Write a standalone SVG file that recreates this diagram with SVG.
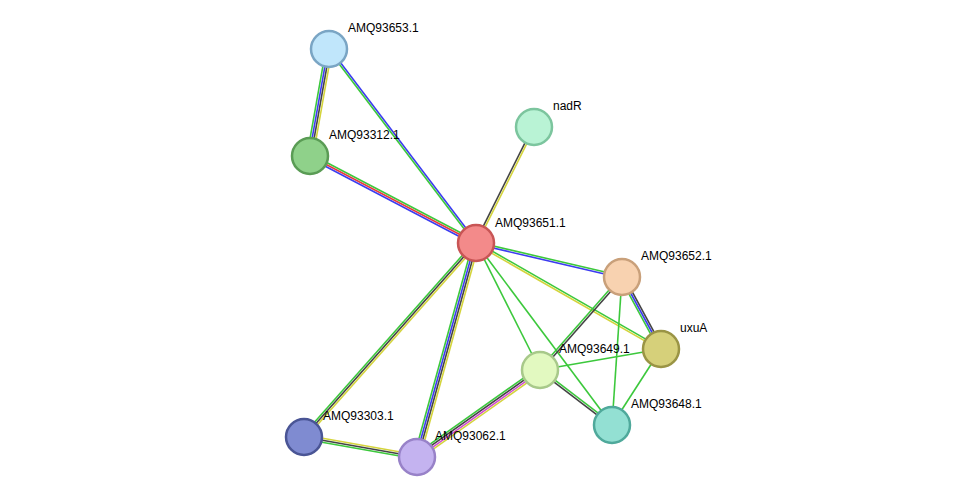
<svg xmlns="http://www.w3.org/2000/svg" width="976" height="503" viewBox="0 0 976 503">
<style>
line{stroke-width:1.6}
.g{stroke:#3cc83c}.b{stroke:#3c3cf0}.k{stroke:#444}.y{stroke:#d4d43c}.r{stroke:#e83c3c}.m{stroke:#d04cd0}
circle{stroke-width:2.5}
text{font-family:"Liberation Sans",Arial,sans-serif;font-size:12px;fill:#000}
</style>
<rect width="976" height="503" fill="#fff"/>
<g id="edges">
<line class="g" x1="326.05" y1="48.48" x2="307.05" y2="155.48"/>
<line class="b" x1="328.02" y1="48.83" x2="309.02" y2="155.83"/>
<line class="k" x1="329.98" y1="49.17" x2="310.98" y2="156.17"/>
<line class="y" x1="331.95" y1="49.52" x2="312.95" y2="156.52"/>
<line class="b" x1="329.8" y1="48.4" x2="476.8" y2="242.4"/>
<line class="g" x1="328.2" y1="49.6" x2="475.2" y2="243.6"/>
<line class="g" x1="310.93" y1="154.23" x2="476.93" y2="241.23"/>
<line class="r" x1="310" y1="156" x2="476" y2="243"/>
<line class="b" x1="309.07" y1="157.77" x2="475.07" y2="244.77"/>
<line class="k" x1="533.1" y1="126.55" x2="475.1" y2="242.55"/>
<line class="y" x1="534.9" y1="127.45" x2="476.9" y2="243.45"/>
<line class="g" x1="476.23" y1="242.03" x2="622.23" y2="276.03"/>
<line class="b" x1="475.77" y1="243.97" x2="621.77" y2="277.97"/>
<line class="g" x1="476.5" y1="242.13" x2="661.5" y2="348.13"/>
<line class="y" x1="475.5" y1="243.87" x2="660.5" y2="349.87"/>
<line class="g" x1="476" y1="243" x2="540" y2="370"/>
<line class="g" x1="476" y1="243" x2="612" y2="425"/>
<line class="g" x1="474.5" y1="241.67" x2="302.5" y2="435.67"/>
<line class="k" x1="476" y1="243" x2="304" y2="437"/>
<line class="y" x1="477.5" y1="244.33" x2="305.5" y2="438.33"/>
<line class="g" x1="473.11" y1="242.2" x2="414.11" y2="456.2"/>
<line class="b" x1="475.04" y1="242.73" x2="416.04" y2="456.73"/>
<line class="k" x1="476.96" y1="243.27" x2="417.96" y2="457.27"/>
<line class="y" x1="478.89" y1="243.8" x2="419.89" y2="457.8"/>
<line class="g" x1="620.24" y1="277.95" x2="659.24" y2="349.95"/>
<line class="b" x1="622" y1="277" x2="661" y2="349"/>
<line class="k" x1="623.76" y1="276.05" x2="662.76" y2="348.05"/>
<line class="g" x1="621.25" y1="276.34" x2="539.25" y2="369.34"/>
<line class="k" x1="622.75" y1="277.66" x2="540.75" y2="370.66"/>
<line class="g" x1="622" y1="277" x2="612" y2="425"/>
<line class="g" x1="661" y1="349" x2="540" y2="370"/>
<line class="g" x1="661" y1="349" x2="612" y2="425"/>
<line class="g" x1="540.6" y1="369.2" x2="612.6" y2="424.2"/>
<line class="k" x1="539.4" y1="370.8" x2="611.4" y2="425.8"/>
<line class="g" x1="538.27" y1="367.55" x2="415.27" y2="454.55"/>
<line class="k" x1="539.42" y1="369.18" x2="416.42" y2="456.18"/>
<line class="m" x1="540.58" y1="370.82" x2="417.58" y2="457.82"/>
<line class="y" x1="541.73" y1="372.45" x2="418.73" y2="459.45"/>
<line class="y" x1="304.35" y1="435.03" x2="417.35" y2="455.03"/>
<line class="k" x1="304" y1="437" x2="417" y2="457"/>
<line class="g" x1="303.65" y1="438.97" x2="416.65" y2="458.97"/>
</g>
<g id="n653"><circle cx="329" cy="49" r="18" fill="#c0e6fb" stroke="#7aa5c4"/><text x="348" y="32">AMQ93653.1</text></g>
<g id="n312"><circle cx="310" cy="156" r="18" fill="#8fd18a" stroke="#5a9c55"/><text x="329" y="139">AMQ93312.1</text></g>
<g id="nadR"><circle cx="534" cy="127" r="18" fill="#b9f3d5" stroke="#7cc59e"/><text x="553" y="110">nadR</text></g>
<g id="n651"><circle cx="476" cy="243" r="18" fill="#f38a8a" stroke="#c85555"/><text x="495" y="227">AMQ93651.1</text></g>
<g id="n652"><circle cx="622" cy="277" r="18" fill="#f8d2b0" stroke="#c9a07a"/><text x="641" y="260">AMQ93652.1</text></g>
<g id="uxuA"><circle cx="661" cy="349" r="18" fill="#d6d07a" stroke="#9a9445"/><text x="680" y="332">uxuA</text></g>
<g id="n649"><circle cx="540" cy="370" r="18" fill="#e2f9c0" stroke="#a8c98a"/><text x="559" y="353">AMQ93649.1</text></g>
<g id="n648"><circle cx="612" cy="425" r="18" fill="#93e0d3" stroke="#4fa99b"/><text x="631" y="408">AMQ93648.1</text></g>
<g id="n303"><circle cx="304" cy="437" r="18" fill="#7f8bd1" stroke="#4a5595"/><text x="323" y="420">AMQ93303.1</text></g>
<g id="n062"><circle cx="417" cy="457" r="18" fill="#c4b3f0" stroke="#9882c8"/><text x="435" y="440">AMQ93062.1</text></g>
</svg>
